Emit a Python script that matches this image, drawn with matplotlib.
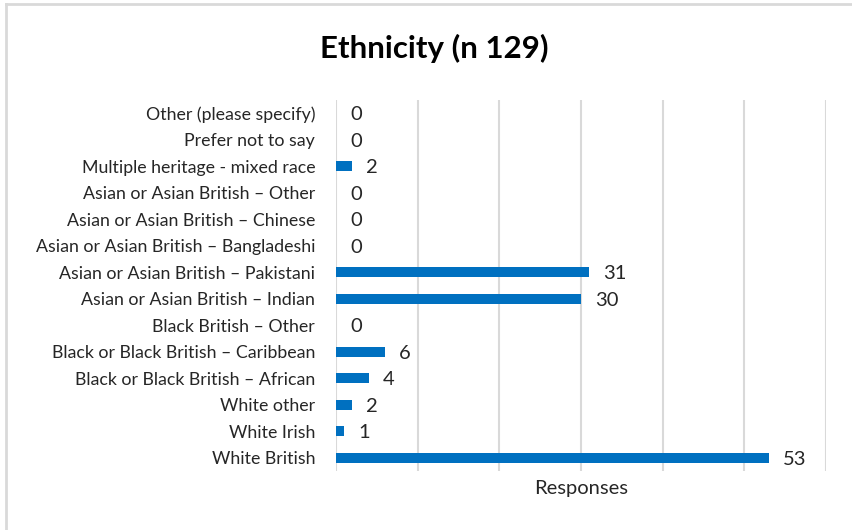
import matplotlib.pyplot as plt
from matplotlib.lines import Line2D

# categories listed bottom to top, as drawn
categories = [
    'White British',
    'White Irish',
    'White other',
    'Black or Black British \u2013 African',
    'Black or Black British \u2013 Caribbean',
    'Black British \u2013 Other',
    'Asian or Asian British \u2013 Indian',
    'Asian or Asian British \u2013 Pakistani',
    'Asian or Asian British \u2013 Bangladeshi',
    'Asian or Asian British \u2013 Chinese',
    'Asian or Asian British \u2013 Other',
    'Multiple heritage - mixed race',
    'Prefer not to say',
    'Other (please specify)',
]
responses = [53, 1, 2, 4, 6, 0, 30, 31, 0, 0, 0, 2, 0, 0]
x_ticks = [0, 10, 20, 30, 40, 50, 60]

plt.rcParams['font.family'] = ['Lato', 'DejaVu Sans']

W, H = 853, 530
fig = plt.figure(figsize=(W / 100, H / 100), dpi=100)
ax = fig.add_axes([336 / W, 1 - 471 / H, (826 - 336) / W, (471 - 100) / H])

# screenshot edge: light gray line on the top and left only
fig.lines.append(Line2D([6 / W, 6 / W], [0, 1 - 4 / H], transform=fig.transFigure,
                        color='#d9d9d9', linewidth=2))
fig.lines.append(Line2D([6 / W, 1], [1 - 4 / H, 1 - 4 / H], transform=fig.transFigure,
                        color='#d9d9d9', linewidth=2))

y = range(len(categories))
ax.barh(y, responses, height=0.38, color='#0070c0', zorder=3)

for yi, v in zip(y, responses):
    ax.annotate(str(v), (v, yi), xytext=(10, -1), textcoords='offset points',
                va='center', ha='left', fontsize=14.5, color='#262626')

ax.set_xlim(0, 60)
ax.set_ylim(-0.5, len(categories) - 0.5)
ax.set_xticks(x_ticks)
ax.set_xticklabels([])
ax.set_yticks(list(y))
ax.set_yticklabels(categories, fontsize=12.8, color='#262626')
ax.tick_params(axis='both', length=0)
ax.tick_params(axis='y', pad=15)
ax.grid(axis='x', color='#d9d9d9', linewidth=1.5, zorder=0)
for s in ax.spines.values():
    s.set_visible(False)

ax.set_xlabel('Responses', fontsize=14.5, color='#262626', labelpad=3)
fig.text(434 / W, 1 - 48 / H, 'Ethnicity (n 129)', ha='center', va='center',
         fontsize=22.5, fontweight='bold', color='black')

fig.savefig('out.png', dpi=100, facecolor='white')
